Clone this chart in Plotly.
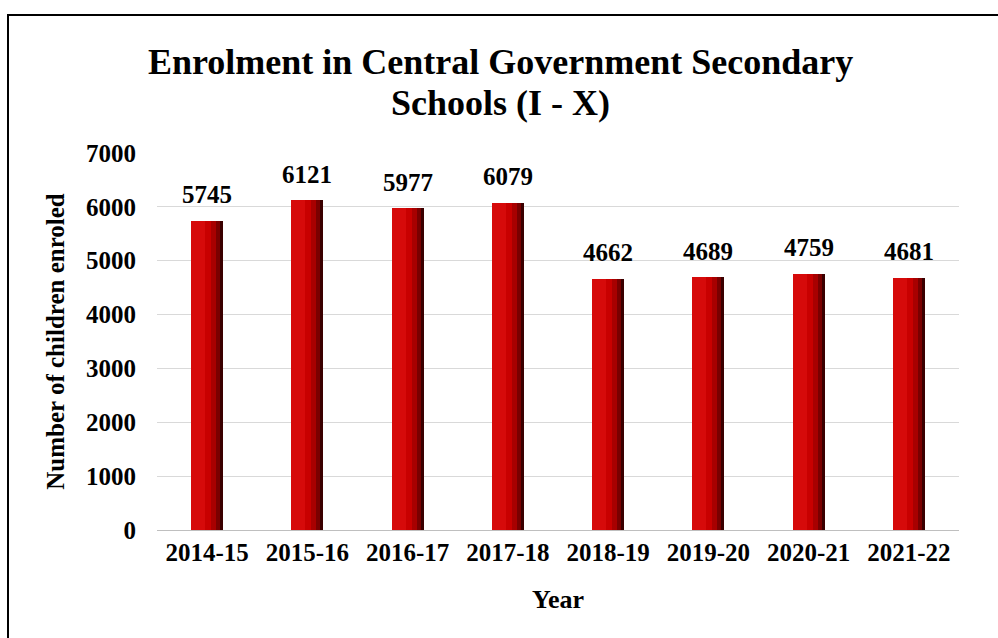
import plotly.graph_objects as go

years = ["2014-15", "2015-16", "2016-17", "2017-18", "2018-19", "2019-20", "2020-21", "2021-22"]
enrolment = [5745, 6121, 5977, 6079, 4662, 4689, 4759, 4681]
y_ticks = [0, 1000, 2000, 3000, 4000, 5000, 6000, 7000]

FONT = "Liberation Serif, Times New Roman, serif"
BAR_W = 0.32

# plot area in pixels, used to place the title lines and border in paper units
PL, PR, PT, PB = 157, 959, 153, 530


def px_x(px):
    return (px - PL) / (PR - PL)


def px_y(py):
    return (PB - py) / (PB - PT)


fig = go.Figure()

# Layered bars give each column a cylinder-like shading: dark right edge, bright left body
layers = [
    (0.32, "#3a0000"),
    (0.29, "#7a0000"),
    (0.25, "#a80000"),
    (0.20, "#c80000"),
    (0.14, "#d60a0a"),
]
for w, col in layers:
    fig.add_trace(go.Bar(
        x=years, y=enrolment, width=w, offset=-BAR_W / 2,
        marker=dict(color=col, line=dict(width=0)),
        hoverinfo="skip", showlegend=False,
    ))

bold = dict(family=FONT, color="black", weight="bold")

# Value labels above each bar
for yr, v in zip(years, enrolment):
    fig.add_annotation(
        x=yr, y=v, text=str(v), showarrow=False,
        xanchor="center", yanchor="middle", yshift=26,
        font=dict(size=25, **bold),
    )

fig.update_layout(
    barmode="overlay",
    width=998, height=638,
    margin=dict(l=PL, r=998 - PR, t=PT, b=638 - PB),
    paper_bgcolor="white", plot_bgcolor="white",
    xaxis=dict(
        showgrid=False, showline=True, linecolor="#bfbfbf", linewidth=1,
        ticks="", tickfont=dict(size=25, **bold),
        title=dict(text="Year", font=dict(size=26, **bold), standoff=24),
    ),
    yaxis=dict(
        range=[0, 7000], tickvals=y_ticks, showgrid=True, gridcolor="#d9d9d9", gridwidth=1,
        zeroline=False, showline=False, ticks="", ticklabelstandoff=20,
        tickfont=dict(size=25, **bold),
        title=dict(text="Number of children enroled", font=dict(size=25, **bold), standoff=14),
    ),
    bargap=0,
)

# Two-line title with tight line spacing
for line, py in [("Enrolment in Central Government Secondary", 62), ("Schools (I - X)", 103)]:
    fig.add_annotation(
        text=line, xref="paper", yref="paper", x=px_x(500), y=px_y(py),
        xanchor="center", yanchor="middle", showarrow=False,
        font=dict(size=36, **bold),
    )

# Chart border
fig.add_shape(
    type="rect", xref="paper", yref="paper",
    x0=px_x(8), x1=px_x(1010), y0=px_y(660), y1=px_y(15),
    line=dict(color="black", width=2), layer="below",
)

fig.write_html("out.html")
